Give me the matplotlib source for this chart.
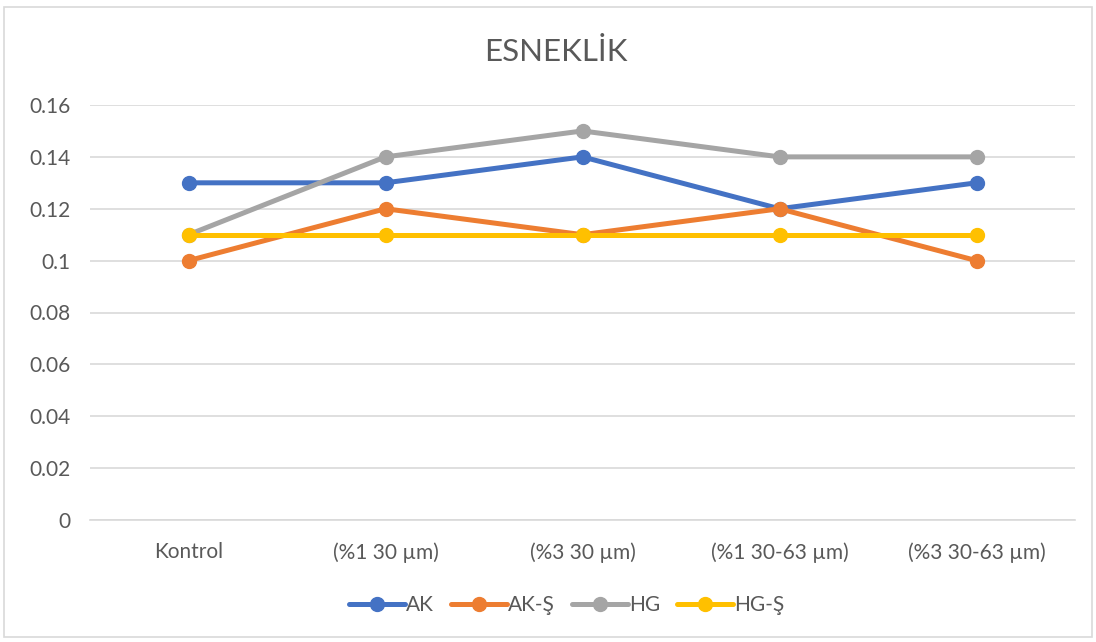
import matplotlib
matplotlib.use("Agg")
import matplotlib.pyplot as plt
from matplotlib.patches import Rectangle

plt.rcParams['font.family'] = ['Lato', 'DejaVu Sans']

categories = ['Kontrol', '(%1 30 µm)', '(%3 30 µm)', '(%1 30-63 µm)', '(%3 30-63 µm)']
ak = [0.13, 0.13, 0.14, 0.12, 0.13]
ak_s = [0.10, 0.12, 0.11, 0.12, 0.10]
hg = [0.11, 0.14, 0.15, 0.14, 0.14]
hg_s = [0.11, 0.11, 0.11, 0.11, 0.11]
series = [('AK', ak, '#4472C4'), ('AK-Ş', ak_s, '#ED7D31'),
          ('HG', hg, '#A5A5A5'), ('HG-Ş', hg_s, '#FFC000')]

txt = '#595959'
fig = plt.figure(figsize=(10.96, 6.42), dpi=100)
fig.patches.append(Rectangle((4/1096, 1 - 637/642), 1088/1096, 630/642,
                             transform=fig.transFigure, fill=False,
                             edgecolor='#D9D9D9', linewidth=1.2))
ax = fig.add_axes([90/1096, 1 - 520/642, 985/1096, 415/642])

x = range(len(categories))
for name, vals, col in series:
    ax.plot(x, vals, color=col, linewidth=3.6, marker='o', markersize=10,
            label=name, solid_capstyle='round', zorder=3)

ax.set_xlim(-0.5, 4.5)
ax.set_ylim(0, 0.16)
ax.set_yticks([0, 0.02, 0.04, 0.06, 0.08, 0.1, 0.12, 0.14, 0.16])
ax.set_yticklabels(['0', '0.02', '0.04', '0.06', '0.08', '0.1', '0.12', '0.14', '0.16'])
ax.set_xticks(list(x))
ax.set_xticklabels(categories)
ax.grid(axis='y', color='#D9D9D9', linewidth=1.2)
ax.set_axisbelow(True)
for s in ['top', 'right', 'left']:
    ax.spines[s].set_visible(False)
ax.spines['bottom'].set_color('#D9D9D9')
ax.spines['bottom'].set_linewidth(1.2)
ax.tick_params(length=0, labelsize=15, labelcolor=txt)
ax.tick_params(axis='x', pad=16)
ax.tick_params(axis='y', pad=14)

fig.text(0.507, 1 - 52/642, 'ESNEKLİK', ha='center', va='center', fontsize=22.5, color=txt)

ax.legend(loc='center', bbox_to_anchor=(0.484, -0.205), ncol=4, frameon=False,
          fontsize=15, labelcolor=txt, handlelength=2.7, handletextpad=0.05,
          columnspacing=0.8)

fig.savefig('out.png', dpi=100)
